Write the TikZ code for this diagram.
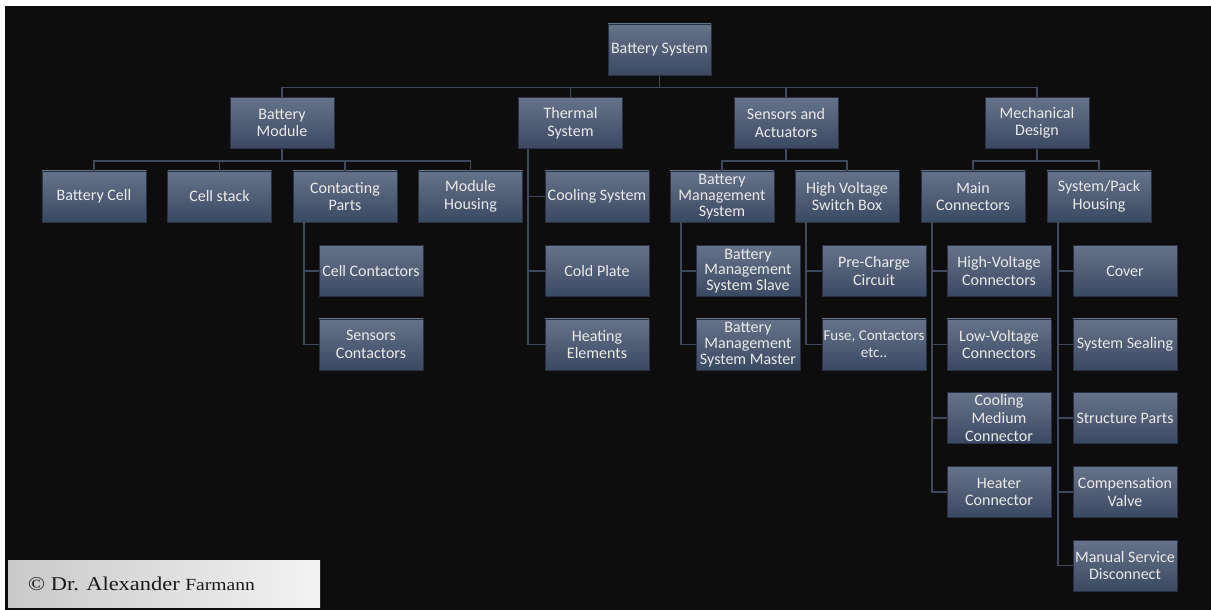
\documentclass[tikz,border=0pt]{standalone}
\usepackage{fontspec}
\setmainfont{Carlito}
\newfontfamily\cfont[FakeStretch=1.15]{Liberation Serif}
\definecolor{bg}{HTML}{0D0D0D}
\definecolor{boxtop}{HTML}{65738A}
\definecolor{boxbot}{HTML}{3A4962}
\definecolor{boxedge}{HTML}{283141}
\definecolor{linec}{HTML}{3E495C}
\definecolor{txt}{HTML}{EAEAEA}
\definecolor{cleft}{HTML}{C9C9C9}
\definecolor{cright}{HTML}{F3F3F3}
\begin{document}
\begin{tikzpicture}[x=1bp,y=-1bp,
  box/.style={rectangle, minimum width=104bp, minimum height=51bp, inner sep=0pt,
    top color=boxtop, bottom color=boxbot, draw=boxedge, line width=0.6bp,
    text=txt, align=center, font=\fontsize{16bp}{17.6bp}\selectfont},
  tight/.style={font=\fontsize{16bp}{15.8bp}\selectfont},
  small/.style={font=\fontsize{15bp}{17bp}\selectfont},
  wire/.style={draw=linec, line width=1.5bp}]
\useasboundingbox (0,0) rectangle (1211,610);
\fill[white] (0,0) rectangle (1211,610);
\fill[bg] (5,6) rectangle (1211,610);

% root and level 1
\node[box, minimum width=103bp] (root) at (659.5,49.5) {Battery System};
\node[box] (bm) at (282,123) {Battery\\Module};
\node[box] (ts) at (570.5,123) {Thermal\\System};
\node[box] (sa) at (786,123) {Sensors and\\Actuators};
\node[box] (md) at (1037,123) {Mechanical\\Design};

% level 2
\node[box] (bc) at (94,196.5) {Battery Cell};
\node[box] (cst) at (219.5,196.5) {Cell stack};
\node[box] (cp) at (345,196.5) {Contacting\\Parts};
\node[box] (mh) at (470.5,196.5) {Module\\Housing};
\node[box] (cs) at (597,196.5) {Cooling System};
\node[box, tight] (bms) at (722,196.5) {Battery\\Management\\System};
\node[box] (hv) at (847,196.5) {High Voltage\\Switch Box};
\node[box] (mc) at (973,196.5) {Main\\Connectors};
\node[box] (sp) at (1099,196.5) {System/Pack\\Housing};

% lists
\node[box] (cc) at (371,271) {Cell Contactors};
\node[box] (sc) at (371,344.5) {Sensors\\Contactors};
\node[box] (cpl) at (597,271) {Cold Plate};
\node[box] (he) at (597,344.5) {Heating\\Elements};
\node[box, tight] (bmss) at (748,271) {Battery\\Management\\System Slave};
\node[box, tight] (bmsm) at (748,344.5) {Battery\\Management\\System Master};
\node[box] (pcc) at (874,271) {Pre-Charge\\Circuit};
\node[box, small] (fuse) at (874,344.5) {Fuse, Contactors\\etc..};
\node[box] (hvc) at (999,271) {High-Voltage\\Connectors};
\node[box] (lvc) at (999,344.5) {Low-Voltage\\Connectors};
\node[box] (cmc) at (999,418) {Cooling\\Medium\\Connector};
\node[box] (hc) at (999,492) {Heater\\Connector};
\node[box] (cov) at (1125,271) {Cover};
\node[box] (ss) at (1125,344.5) {System Sealing};
\node[box] (stp) at (1125,418) {Structure Parts};
\node[box] (cv) at (1125,492) {Compensation\\Valve};
\node[box] (msd) at (1125,565.5) {Manual Service\\Disconnect};

% connectors
\foreach \n in {bm,ts,sa,md} \draw[wire] (root.south) -- ++(0,12) -| (\n.north);
\foreach \n in {bc,cst,cp,mh} \draw[wire] (bm.south) -- ++(0,12) -| (\n.north);
\foreach \n in {bms,hv} \draw[wire] (sa.south) -- ++(0,12) -| (\n.north);
\foreach \n in {mc,sp} \draw[wire] (md.south) -- ++(0,12) -| (\n.north);
\foreach \n in {cs,cpl,he} \draw[wire] ([xshift=10bp]ts.south west) |- (\n.west);
\foreach \n in {cc,sc} \draw[wire] ([xshift=11.5bp]cp.south west) |- (\n.west);
\foreach \n in {bmss,bmsm} \draw[wire] ([xshift=11.5bp]bms.south west) |- (\n.west);
\foreach \n in {pcc,fuse} \draw[wire] ([xshift=11.5bp]hv.south west) |- (\n.west);
\foreach \n in {hvc,lvc,cmc,hc} \draw[wire] ([xshift=11.5bp]mc.south west) |- (\n.west);
\foreach \n in {cov,ss,stp,cv,msd} \draw[wire] ([xshift=11.5bp]sp.south west) |- (\n.west);

% copyright
\node[rectangle, anchor=north west, minimum width=312bp, minimum height=47bp, inner sep=0pt,
  left color=cleft, right color=cright] (copy) at (8,560) {};
\node[anchor=base west, inner sep=0pt, text=black!90] (copytext) at (28,590)
  {\cfont\fontsize{19.5bp}{20bp}\selectfont \textcopyright{} Dr. Alexander {\fontsize{17bp}{18bp}\selectfont Farmann}};
\end{tikzpicture}
\end{document}
